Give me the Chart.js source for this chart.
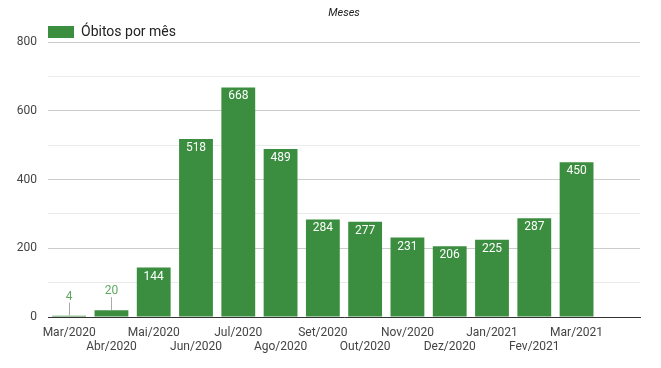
<!DOCTYPE html>
<html>
<head>
<meta charset="utf-8">
<script src="https://cdn.jsdelivr.net/npm/chart.js@4/dist/chart.umd.min.js"></script>
<style>
  body { margin: 0; background: #fff; }
  #wrap { width: 661px; height: 368px; }
</style>
</head>
<body>
<div id="wrap"><canvas id="myChart" width="661" height="368"></canvas></div>
<script>
// meses (o último fica vazio, como no original)
const months = ["Mar/2020", "Abr/2020", "Mai/2020", "Jun/2020", "Jul/2020", "Ago/2020",
  "Set/2020", "Out/2020", "Nov/2020", "Dez/2020", "Jan/2021", "Fev/2021", "Mar/2021", ""];
const deaths = [4, 20, 144, 518, 668, 489, 284, 277, 231, 206, 225, 287, 450, null];
const yTicks = [0, 200, 400, 600, 800];

const seriesName = "Óbitos por mês";
const axisTitle = "Meses";
const green = "#3b8e3f";

const labelsPlugin = {
  id: "valueLabels",
  afterDatasetsDraw(chart) {
    const ctx = chart.ctx;
    const meta = chart.getDatasetMeta(0);
    ctx.save();
    ctx.font = "12px Roboto";
    ctx.textAlign = "center";
    ctx.textBaseline = "middle";
    meta.data.forEach((bar, i) => {
      const v = deaths[i];
      if (v === null) return;
      const h = bar.base - bar.y;
      if (h > 22) {
        ctx.fillStyle = "#ffffff";
        ctx.fillText(v, bar.x, bar.y + 9);
      } else {
        // valor pequeno: fora da barra com linha guia
        ctx.strokeStyle = "#aaaaaa";
        ctx.lineWidth = 1;
        ctx.beginPath();
        ctx.moveTo(Math.round(bar.x) + 0.5, bar.y);
        ctx.lineTo(Math.round(bar.x) + 0.5, bar.y - 13);
        ctx.stroke();
        ctx.fillStyle = "#5ea862";
        ctx.fillText(v, bar.x, bar.y - 19);
      }
    });
    ctx.restore();
  },
  afterDraw(chart) {
    const ctx = chart.ctx;
    const area = chart.chartArea;
    ctx.save();
    // titulo do eixo
    ctx.font = "italic 11px Roboto";
    ctx.fillStyle = "#222";
    ctx.textAlign = "center";
    ctx.textBaseline = "middle";
    ctx.fillText(axisTitle, (area.left + area.right) / 2, 13);
    // legenda
    ctx.fillStyle = green;
    ctx.fillRect(area.left, 26, 26, 12);
    ctx.fillStyle = "#222";
    ctx.font = "14px Roboto";
    ctx.textAlign = "left";
    ctx.fillText(seriesName, area.left + 33, 32);
    ctx.restore();
  }
};

const ctx = document.getElementById("myChart").getContext("2d");
const myChart = new Chart(ctx, {
  type: "bar",
  data: {
    labels: months,
    datasets: [{
      label: seriesName,
      data: deaths,
      backgroundColor: green,
      categoryPercentage: 1,
      barPercentage: 0.8,
    }],
  },
  options: {
    responsive: false,
    animation: false,
    layout: { padding: { top: 42, right: 21, left: 0, bottom: 0 } },
    plugins: {
      legend: { display: false },
      tooltip: { enabled: false },
    },
    scales: {
      x: {
        grid: { display: false },
        border: { display: true, color: "#333", width: 1 },
        ticks: {
          autoSkip: false,
          maxRotation: 0,
          padding: 1,
          color: "#444",
          font: { family: "Roboto", size: 12, lineHeight: 1.15 },
          callback: (val, i) => {
            const m = months[i];
            if (!m) return "";
            return i % 2 === 0 ? m : ["", m];
          },
        },
        afterFit: (scale) => { scale.height = 51; },
      },
      y: {
        min: 0,
        max: 800,
        border: { display: false },
        grid: {
          drawTicks: false,
          color: (c) => (c.tick.value % 200 === 0 ? "#cccccc" : "#ebebeb"),
        },
        ticks: {
          stepSize: 100,
          padding: 11,
          color: "#444",
          font: { family: "Roboto", size: 12 },
          callback: (v) => (yTicks.includes(v) ? v : ""),
        },
        afterFit: (scale) => { scale.width = 48; },
      },
    },
  },
  plugins: [labelsPlugin],
});
</script>
</body>
</html>
